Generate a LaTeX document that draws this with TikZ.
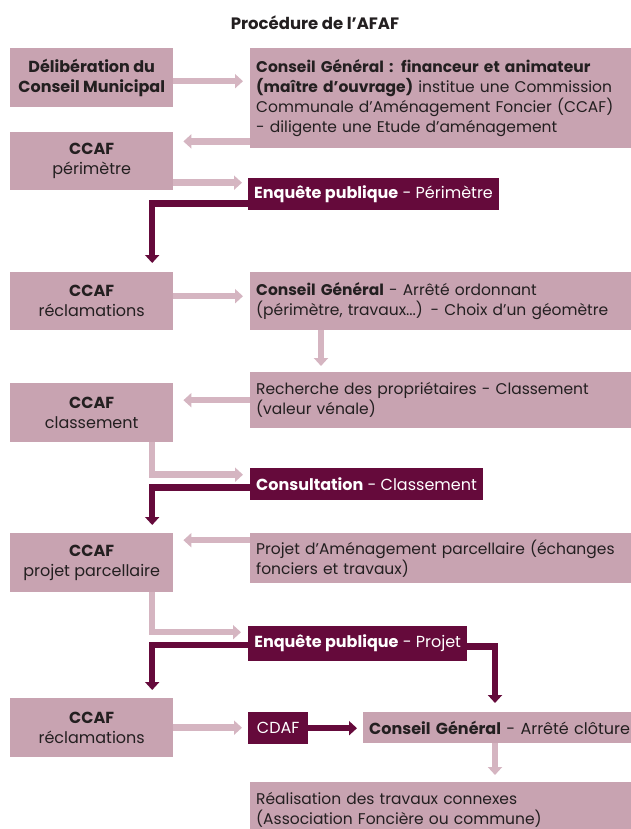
\documentclass[tikz,border=0pt]{standalone}
\usepackage{fontspec}
\setmainfont{Poppins}
\usetikzlibrary{arrows.meta}

\definecolor{mauve}{HTML}{C8A3B1}
\definecolor{palemauve}{HTML}{D5B5C1}
\definecolor{wine}{HTML}{650A3B}
\definecolor{ink}{HTML}{231F20}

\begin{document}
\begin{tikzpicture}[
        x=1pt, y=-1pt,
        font=\fontsize{16}{20}\selectfont,
        ccaf/.style={
            rectangle, fill=mauve, text=ink,
            minimum width=163pt, minimum height=58pt,
            align=center, anchor=north west, inner sep=0pt
        },
        info/.style={
            rectangle, fill=mauve, text=ink,
            font=\fontsize{15.5}{20}\selectfont,
            text width=400pt, inner xsep=6pt, inner ysep=0pt,
            align=left, anchor=north west
        },
        event/.style={
            rectangle, fill=wine, text=white,
            minimum height=32pt, inner xsep=6pt, inner ysep=0pt,
            anchor=north west
        },
        pale/.style={-{Triangle[length=8pt,width=14pt]}, line width=6.5pt, draw=palemauve},
        dark/.style={-{Triangle[length=8pt,width=14pt]}, line width=6.5pt, draw=wine}
    ]
    \useasboundingbox (0,0) rectangle (630,829);

    % Title
    \node[font=\bfseries\fontsize{16.5}{20}\selectfont, text=ink] (title) at (315,23)
        {Procédure de l’AFAF};

    % Left column (CCAF)
    \node[ccaf, minimum height=59pt] (l1) at (10,48)
        {\textbf{Délibération du}\\\textbf{Conseil Municipal}};
    \node[ccaf] (l2) at (10,132) {\textbf{CCAF}\\périmètre};
    \node[ccaf] (l3) at (10,272) {\textbf{CCAF}\\réclamations};
    \node[ccaf, minimum height=59pt] (l4) at (10,383) {\textbf{CCAF}\\classement};
    \node[ccaf, minimum height=59pt] (l5) at (10,533) {\textbf{CCAF}\\projet parcellaire};
    \node[ccaf, minimum height=59pt] (l6) at (10,698) {\textbf{CCAF}\\réclamations};

    % Right column
    \node[info, minimum height=100pt] (r1) at (250,48)
        {\textbf{Conseil Général : financeur et animateur}\\
         \textbf{(maître d’ouvrage)} institue une Commission\\
         Communale d’Aménagement Foncier (CCAF)\\
         - diligente une Etude d’aménagement};
    \node[info, minimum height=58pt] (r3) at (250,272)
        {\textbf{Conseil Général} - Arrêté ordonnant\\
         (périmètre, travaux...) - Choix d’un géomètre};
    \node[info, minimum height=56pt] (r4) at (250,372)
        {Recherche des propriétaires - Classement\\(valeur vénale)};
    \node[info, minimum height=50pt] (r5) at (250,533)
        {Projet d’Aménagement parcellaire (échanges\\fonciers et travaux)};
    \node[info, font=\fontsize{16}{20}\selectfont, text width=280pt, minimum height=31pt] (r6) at (363,712)
        {\textbf{Conseil Général} - Arrêté clôture};
    \node[info, minimum height=56pt] (r7) at (250,782)
        {Réalisation des travaux connexes\\(Association Foncière ou commune)};

    % Public steps
    \node[event, minimum width=245pt] (e1) at (248,178)
        {\textbf{Enquête publique} - Périmètre};
    \node[event, minimum width=224pt] (e2) at (250,468)
        {\textbf{Consultation} - Classement};
    \node[event, minimum width=219pt, minimum height=35pt] (e3) at (248,626)
        {\textbf{Enquête publique} - Projet};
    \node[event, minimum width=60pt] (cdaf) at (248,712) {CDAF};

    % Pale arrows
    \draw[pale, shorten >=7pt] ([yshift=-3.5pt]l1.east) -- ([yshift=-3.5pt]l1.east -| r1.west);
    \draw[pale, shorten >=10pt] ([yshift=7pt]r1.south west) -- ([yshift=7pt]r1.south west -| l2.east);
    \draw[pale, shorten >=6pt] ([yshift=11.5pt]e1.west -| l2.east) -- ([yshift=11.5pt]e1.west);
    \draw[pale, shorten >=7pt] ([yshift=5pt]l3.east) -- ([yshift=5pt]l3.east -| r3.west);
    \draw[pale, shorten >=6pt] ([xshift=71pt]r3.south west) -- ([xshift=71pt]r3.south west |- r4.north);
    \draw[pale, shorten >=10pt] (r4.west) -- (r4.west -| l4.east);
    \draw[pale, shorten >=7pt] ([xshift=60.5pt]l4.south) |- ([yshift=9.5pt]e2.west);
    \draw[pale, shorten >=10pt] ([yshift=18pt]r5.west) -- ([yshift=18pt]r5.west -| l5.east);
    \draw[pale, shorten >=7pt] ([xshift=60.5pt]l5.south) |- ([yshift=11.5pt]e3.west);
    \draw[pale, shorten >=6pt] (l6.east) -- (l6.east -| cdaf.west);
    \draw[pale, shorten >=7pt] ([xshift=132pt]r6.south west) -- ([xshift=132pt]r6.south west |- r7.north);

    % Dark arrows
    \draw[dark, shorten >=9pt] ([yshift=-9.5pt]e1.west) -| ([xshift=60.5pt]l3.north);
    \draw[dark, shorten >=8pt] ([yshift=-3.5pt]e2.west) -| ([xshift=60.5pt]l5.north);
    \draw[dark, shorten >=8pt] ([yshift=-1.5pt]e3.west) -| ([xshift=60.5pt]l6.north);
    \draw[dark, shorten >=9pt] ([yshift=-3pt]e3.east) -| ([xshift=132pt]r6.north west);
    \draw[dark, shorten >=6pt] (cdaf.east) -- (cdaf.east -| r6.west);

\end{tikzpicture}
\end{document}
